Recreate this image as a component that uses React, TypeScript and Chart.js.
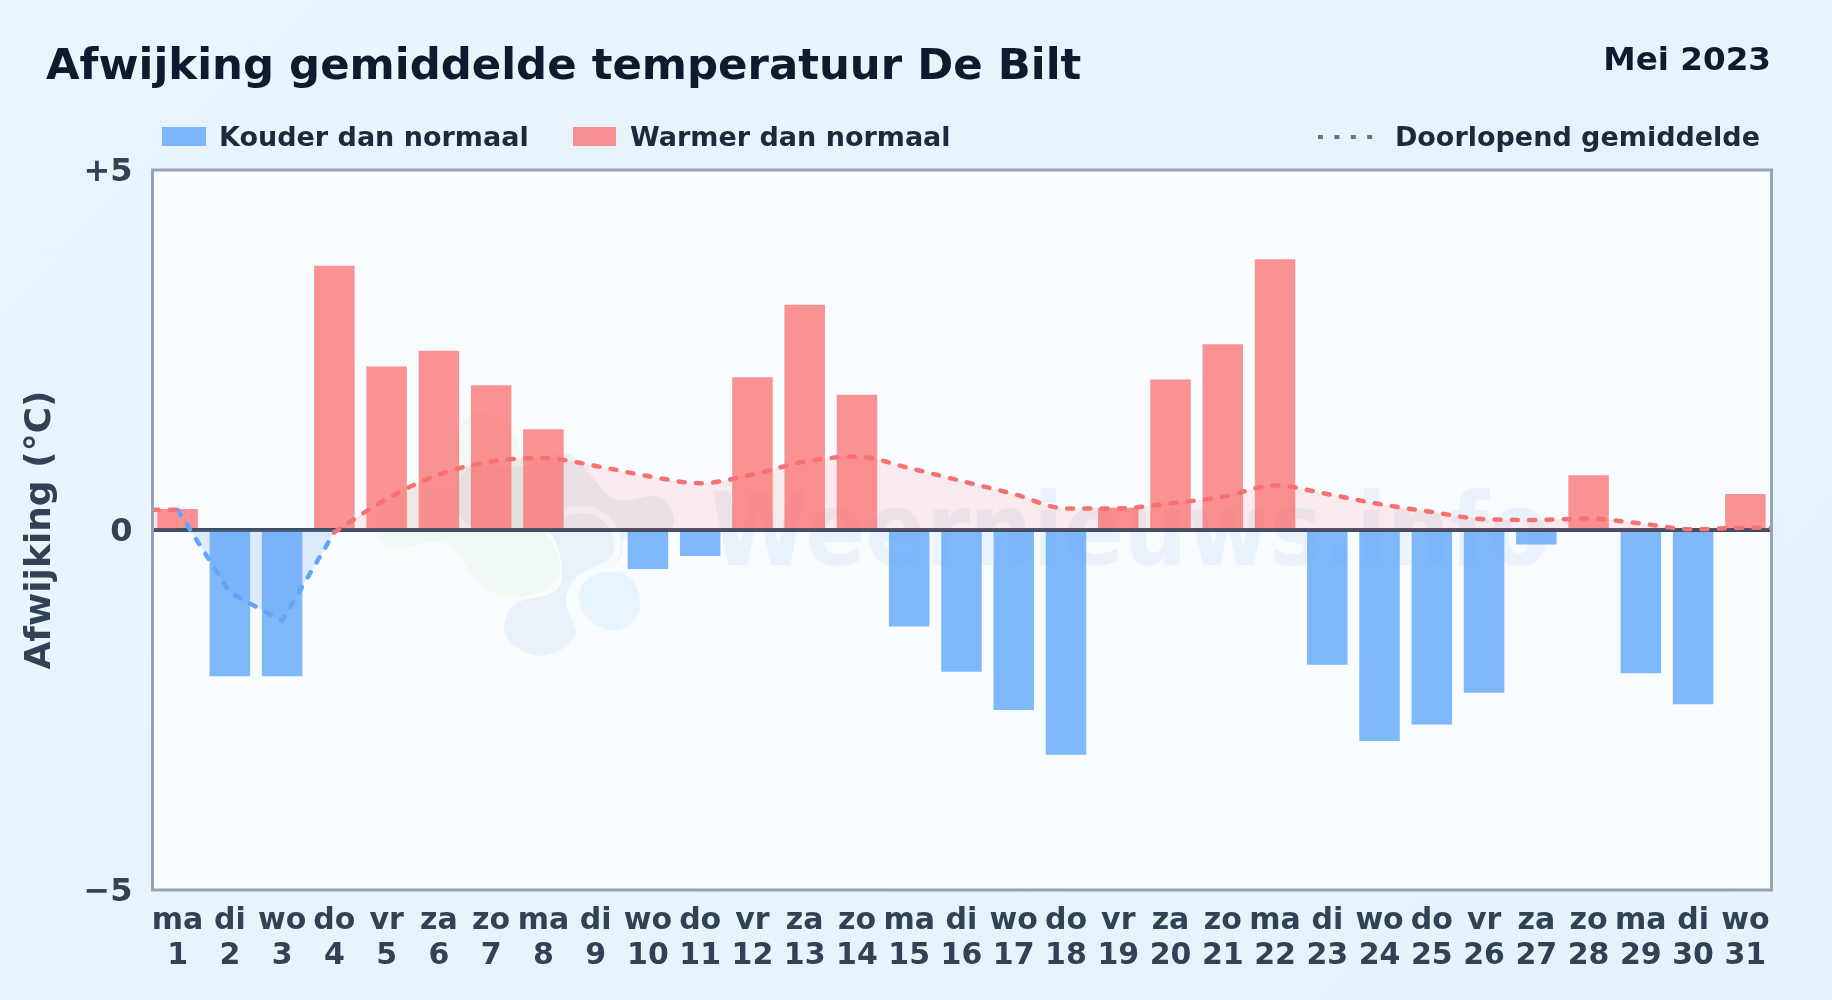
import React, { useEffect, useRef } from "react";
import { Chart, registerables } from "chart.js";

Chart.register(...registerables);

const days = [1,2,3,4,5,6,7,8,9,10,11,12,13,14,15,16,17,18,19,20,21,22,23,24,25,26,27,28,29,30,31];
const weekdays = ["ma","di","wo","do","vr","za","zo","ma","di","wo","do","vr","za","zo","ma","di","wo","do","vr","za","zo","ma","di","wo","do","vr","za","zo","ma","di","wo"];
const deviations = [0.29,-2.03,-2.03,3.67,2.27,2.49,2.01,1.4,0,-0.54,-0.36,2.12,3.13,1.88,-1.34,-1.97,-2.5,-3.12,0.31,2.09,2.58,3.76,-1.87,-2.93,-2.7,-2.26,-0.2,0.76,-1.99,-2.42,0.5];
const runningMean = [0.28,-0.87,-1.26,-0.03,0.43,0.77,0.95,1.0,0.89,0.75,0.65,0.77,0.95,1.02,0.86,0.68,0.5,0.3,0.3,0.37,0.46,0.62,0.5,0.36,0.25,0.15,0.14,0.16,0.09,0.01,0.03];
const coldDays = [1,2,3,4];
const warmBreak = [2,3];
const yTicks = [-5,0,5];
const xMin = 0.52;
const xMax = 31.5;

const FONT = "'DejaVu Sans', sans-serif";
const INK = "#334155";
const RED_BAR = "rgba(248,113,113,0.77)";
const BLUE_BAR = "rgba(96,165,250,0.8)";
const RED = "#f87171";
const BLUE = "#60a5fa";

const meanAt = (d: number) => runningMean[d - 1];

const warmLine = [
  { x: xMin, y: meanAt(1) },
  ...days.map((d) => ({ x: d, y: warmBreak.includes(d) ? null : meanAt(d) })),
  { x: xMax, y: meanAt(31) },
];
const coldLine = coldDays.map((d) => ({ x: d, y: meanAt(d) }));
const zeroLine = [{ x: xMin, y: 0 }, { x: xMax, y: 0 }];

function blob(ctx: CanvasRenderingContext2D, pts: number[][], fill: string) {
  // closed smooth curve through the given outline points
  const n = pts.length;
  ctx.beginPath();
  ctx.moveTo((pts[0][0] + pts[n - 1][0]) / 2, (pts[0][1] + pts[n - 1][1]) / 2);
  for (let i = 0; i < n; i++) {
    const p = pts[i];
    const q = pts[(i + 1) % n];
    ctx.quadraticCurveTo(p[0], p[1], (p[0] + q[0]) / 2, (p[1] + q[1]) / 2);
  }
  ctx.closePath();
  ctx.fillStyle = fill;
  ctx.fill();
}

const plotDecor = {
  id: "plotDecor",
  beforeDatasetsDraw(chart: any) {
    const { ctx, chartArea: a } = chart;
    ctx.save();
    ctx.fillStyle = "#f8fcff";
    ctx.fillRect(a.left, a.top, a.right - a.left, a.bottom - a.top);
    ctx.beginPath();
    ctx.rect(a.left, a.top, a.right - a.left, a.bottom - a.top);
    ctx.clip();
    // watermark logo
    blob(ctx, [[372,535],[395,552],[450,535],[478,590],[525,600],[565,580],[552,535],[525,520],[525,445],[490,405],[452,425],[462,492],[425,485],[385,500]], "rgba(170,215,110,0.08)");
    blob(ctx, [[455,495],[465,462],[530,470],[565,445],[595,480],[615,505],[665,490],[680,535],[622,530],[622,565],[585,572],[560,600],[585,632],[545,662],[500,640],[510,600],[562,595],[562,555],[548,525],[490,530],[462,525]], "rgba(40,120,170,0.07)");
    ctx.strokeStyle = "rgba(248,252,255,0.8)";
    ctx.lineWidth = 7;
    ctx.lineJoin = "round";
    ctx.beginPath();
    ctx.moveTo(563, 514);
    ctx.bezierCurveTo(590, 500, 622, 520, 617, 552);
    ctx.bezierCurveTo(612, 575, 570, 565, 570, 600);
    ctx.bezierCurveTo(570, 615, 578, 620, 580, 635);
    ctx.stroke();
    blob(ctx, [[575,597],[590,573],[630,570],[645,608],[622,634],[590,625]], "rgba(60,170,240,0.08)");
    // watermark text, slightly stretched upwards
    ctx.translate(710, 565);
    ctx.scale(1, 1.14);
    ctx.font = `bold 89px ${FONT}`;
    ctx.textBaseline = "alphabetic";
    ctx.textAlign = "left";
    ctx.fillStyle = "rgba(50,120,190,0.065)";
    ctx.fillText("Weernieuws.info", 0, 0);
    ctx.restore();
  },
  afterDatasetsDraw(chart: any) {
    const { ctx, chartArea: a } = chart;
    ctx.save();
    ctx.strokeStyle = "#94a3b8";
    ctx.lineWidth = 3;
    ctx.strokeRect(a.left, a.top, a.right - a.left, a.bottom - a.top);
    ctx.restore();
  },
};

const text = (style: React.CSSProperties): React.CSSProperties => ({
  position: "absolute",
  fontFamily: FONT,
  fontWeight: 700,
  whiteSpace: "nowrap",
  lineHeight: 1,
  ...style,
});

export default function App() {
  const ref = useRef<HTMLCanvasElement>(null);
  useEffect(() => {
    const chart = new Chart(ref.current as HTMLCanvasElement, {
      data: {
        datasets: [
          {
            type: "line",
            label: "Nul",
            data: zeroLine,
            borderColor: "#404c63",
            borderWidth: 4,
            pointRadius: 0,
            tension: 0,
            order: 1,
          },
          {
            type: "line",
            label: "Doorlopend gemiddelde",
            data: warmLine,
            borderColor: RED,
            borderWidth: 4.5,
            borderDash: [6, 11.3],
            borderCapStyle: "round",
            pointRadius: 0,
            cubicInterpolationMode: "monotone",
            spanGaps: false,
            fill: { target: "origin", above: "rgba(248,113,113,0.13)", below: "rgba(0,0,0,0)" },
            order: 0,
          },
          {
            type: "line",
            label: "Doorlopend gemiddelde (koud)",
            data: coldLine,
            borderColor: BLUE,
            borderWidth: 4.5,
            borderDash: [6, 11.3],
            borderCapStyle: "round",
            pointRadius: 0,
            tension: 0,
            fill: { target: "origin", above: "rgba(0,0,0,0)", below: "rgba(96,165,250,0.18)" },
            order: 0,
          },
          {
            type: "bar",
            label: "Afwijking",
            data: days.map((d, i) => ({ x: d, y: deviations[i] })),
            backgroundColor: deviations.map((v) => (v < 0 ? BLUE_BAR : RED_BAR)),
            borderWidth: 0,
            categoryPercentage: 1,
            barPercentage: 0.775,
            order: 2,
          },
        ],
      } as any,
      options: {
        responsive: false,
        animation: false,
        layout: { padding: { top: 170, right: 60.5, left: 0, bottom: 0 } },
        plugins: { legend: { display: false }, title: { display: false }, tooltip: { enabled: false } },
        scales: {
          x: {
            type: "linear",
            min: xMin,
            max: xMax,
            offset: false,
            grid: { display: false, drawTicks: false },
            border: { display: false },
            afterBuildTicks: (s: any) => {
              s.ticks = days.map((d) => ({ value: d }));
            },
            afterFit: (s: any) => {
              s.height = 110;
            },
            ticks: {
              autoSkip: false,
              maxRotation: 0,
              minRotation: 0,
              padding: 14,
              color: INK,
              font: { family: FONT, weight: "bold", size: 30, lineHeight: 1.16 },
              callback: (v: any) => [weekdays[Number(v) - 1], String(v)],
            },
          },
          y: {
            type: "linear",
            min: -5,
            max: 5,
            grid: { display: false, drawTicks: false },
            border: { display: false },
            afterBuildTicks: (s: any) => {
              s.ticks = yTicks.map((v) => ({ value: v }));
            },
            afterFit: (s: any) => {
              s.width = 152.5;
            },
            title: {
              display: true,
              text: "Afwijking (°C)",
              color: INK,
              font: { family: FONT, weight: "bold", size: 36 },
              padding: { top: 19, bottom: 0 },
            },
            ticks: {
              padding: 20,
              labelOffset: 3,
              color: INK,
              font: { family: FONT, weight: "bold", size: 32 },
              callback: (v: any) => (v > 0 ? `+${v}` : v < 0 ? `\u2212${-v}` : "0"),
            },
          },
        },
      } as any,
      plugins: [plotDecor],
    });
    return () => chart.destroy();
  }, []);

  return (
    <div
      style={{
        position: "fixed",
        left: 0,
        top: 0,
        width: 1832,
        height: 1000,
        overflow: "hidden",
        background: "linear-gradient(135deg,#e9f4fc,#e6f2fb)",
      }}
    >
      <canvas ref={ref} width={1832} height={1000} style={{ position: "absolute", left: 0, top: 0, display: "block" }} />
      <div style={text({ left: 46, top: 43, fontSize: 43.4, color: "#0f1a2e" })}>Afwijking gemiddelde temperatuur De Bilt</div>
      <div style={text({ right: 61, top: 43, fontSize: 32.6, color: "#0f1a2e" })}>Mei 2023</div>
      <div style={{ position: "absolute", left: 162, top: 127, width: 44, height: 19, background: BLUE_BAR }} />
      <div style={text({ left: 219, top: 123, fontSize: 27, color: "#1e293b" })}>Kouder dan normaal</div>
      <div style={{ position: "absolute", left: 573, top: 127, width: 43, height: 19, background: RED_BAR }} />
      <div style={text({ left: 630, top: 123, fontSize: 27, color: "#1e293b" })}>Warmer dan normaal</div>
      <svg style={{ position: "absolute", left: 1316, top: 130, width: 60, height: 14 }}>
        <line x1={2} x2={58} y1={7} y2={7} stroke="#64748b" strokeWidth={4} strokeDasharray="5 11.4" />
      </svg>
      <div style={text({ right: 72, top: 123, fontSize: 27, color: "#1e293b" })}>Doorlopend gemiddelde</div>
    </div>
  );
}
